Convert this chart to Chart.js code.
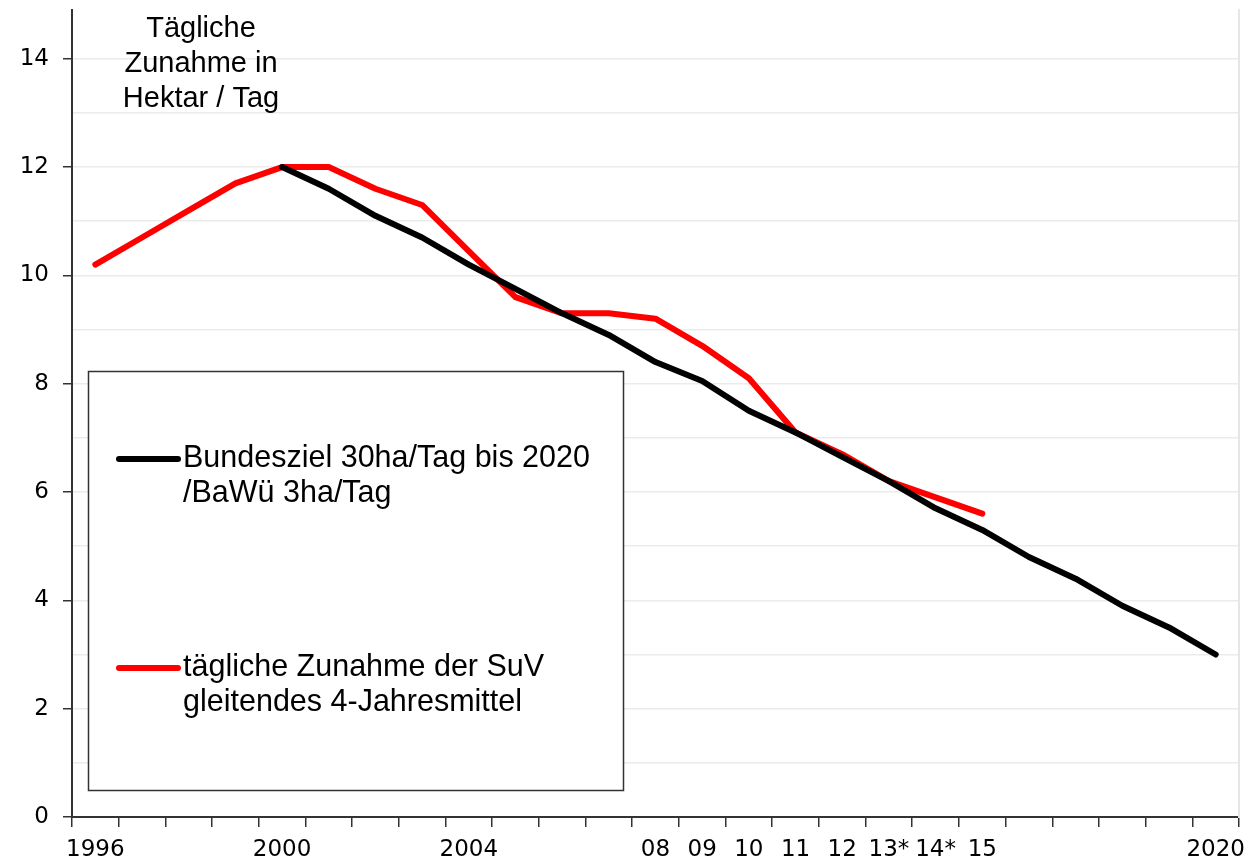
<!DOCTYPE html>
<html>
<head>
<meta charset="utf-8">
<script src="https://cdn.jsdelivr.net/npm/chart.js@4.4.1/dist/chart.umd.min.js"></script>
<style>
  html, body { margin: 0; padding: 0; background: #fff; }
  #wrap { width: 1248px; height: 861px; position: relative; }
</style>
</head>
<body>
<div id="wrap"><canvas id="c" width="1248" height="861"></canvas></div>
<script>
// ---- data ----
const categories = ['1996','1997','1998','1999','2000','2001','2002','2003','2004','2005','2006','2007','2008','2009','2010','2011','2012','2013','2014','2015','2016','2017','2018','2019','2020'];
const tickLabels = ['1996','','','','2000','','','','2004','','','','08','09','10','11','12','13*','14*','15','','','','','2020'];
const bundesziel = [null,null,null,null,12.0,11.6,11.1,10.7,10.2,9.75,9.3,8.9,8.4,8.05,7.5,7.1,6.65,6.2,5.7,5.3,4.8,4.4,3.9,3.5,3.0];
const zunahme = [10.2,10.7,11.2,11.7,12.0,12.0,11.6,11.3,10.45,9.6,9.3,9.3,9.2,8.7,8.1,7.1,6.7,6.2,5.9,5.6,null,null,null,null,null];
const seriesLines = [
  ['Bundesziel 30ha/Tag bis 2020', '/BaWü 3ha/Tag'],
  ['tägliche Zunahme der SuV', 'gleitendes 4-Jahresmittel']
];
const titleLines = ['Tägliche', 'Zunahme in', 'Hektar / Tag'];
const yLabelStep = 2;

const overlayPlugin = {
  id: 'overlay',
  afterDraw(chart) {
    const ctx = chart.ctx;
    ctx.save();
    // title text
    ctx.fillStyle = '#000';
    ctx.font = '29px "Liberation Sans", Arial, sans-serif';
    ctx.textAlign = 'center';
    ctx.textBaseline = 'middle';
    titleLines.forEach((t, i) => ctx.fillText(t, 201, 29 + i * 35));
    // legend box
    ctx.fillStyle = '#fff';
    ctx.fillRect(88, 371, 535, 419);
    ctx.strokeStyle = '#333';
    ctx.lineWidth = 1.5;
    ctx.strokeRect(88.5, 371.5, 535, 419);
    const ys = [459, 668];
    chart.data.datasets.forEach((ds, i) => {
      ctx.strokeStyle = ds.borderColor;
      ctx.lineWidth = 6;
      ctx.lineCap = 'round';
      ctx.beginPath();
      ctx.moveTo(119, ys[i]);
      ctx.lineTo(178, ys[i]);
      ctx.stroke();
      ctx.fillStyle = '#000';
      ctx.font = '30.5px "Liberation Sans", Arial, sans-serif';
      ctx.textAlign = 'left';
      ctx.textBaseline = 'middle';
      seriesLines[i].forEach((t, j) => ctx.fillText(t, 183, ys[i] + j * 35));
    });
    ctx.restore();
  }
};

new Chart(document.getElementById('c'), {
  type: 'line',
  data: {
    labels: categories,
    datasets: [
      { label: seriesLines[0].join(' '), data: bundesziel, borderColor: '#000000', borderWidth: 6,
        pointRadius: 0, tension: 0, borderCapStyle: 'round', borderJoinStyle: 'round', spanGaps: false },
      { label: seriesLines[1].join(' '), data: zunahme, borderColor: '#ff0000', borderWidth: 6,
        pointRadius: 0, tension: 0, borderCapStyle: 'round', borderJoinStyle: 'round', spanGaps: false }
    ]
  },
  options: {
    responsive: false,
    animation: false,
    events: [],
    layout: { padding: { top: 10, left: 0, right: 0, bottom: 0 } },
    plugins: { legend: { display: false }, tooltip: { enabled: false }, title: { display: false } },
    scales: {
      x: {
        type: 'category',
        offset: true,
        grid: { offset: true, drawOnChartArea: false, drawTicks: true, tickLength: 10, tickColor: '#333', lineWidth: 1.5 },
        border: { display: true, color: '#333', width: 2 },
        ticks: {
          autoSkip: false, maxRotation: 0, minRotation: 0, padding: 9,
          color: '#000', font: { family: '"DejaVu Sans", Verdana, sans-serif', size: 23 },
          callback: (v, i) => tickLabels[i]
        },
        afterFit: (s) => { s.height = 44; s.paddingLeft = 0; s.paddingRight = 0; }
      },
      y: {
        min: 0, max: 14.9,
        afterBuildTicks: (s) => { s.ticks = s.ticks.filter(t => Number.isInteger(t.value)); },
        ticks: {
          stepSize: 1, padding: 14, color: '#000',
          font: { family: '"DejaVu Sans", Verdana, sans-serif', size: 23 },
          callback: (v) => (v % yLabelStep === 0 ? String(v) : '')
        },
        grid: {
          color: '#ebebeb', lineWidth: 1.5, tickLength: 9,
          tickColor: (c) => (c.tick && c.tick.value % yLabelStep === 0 ? '#333' : 'rgba(0,0,0,0)')
        },
        border: { display: true, color: '#333', width: 2 },
        afterFit: (s) => { s.width = 72; s.paddingTop = 0; s.paddingBottom = 0; }
      },
      y2: {
        position: 'right', min: 0, max: 14.9,
        ticks: { display: false },
        grid: { drawOnChartArea: false, drawTicks: false },
        border: { display: true, color: '#e6e6e6', width: 2 },
        afterFit: (s) => { s.width = 9; s.paddingTop = 0; s.paddingBottom = 0; }
      }
    }
  },
  plugins: [overlayPlugin]
});
</script>
</body>
</html>
